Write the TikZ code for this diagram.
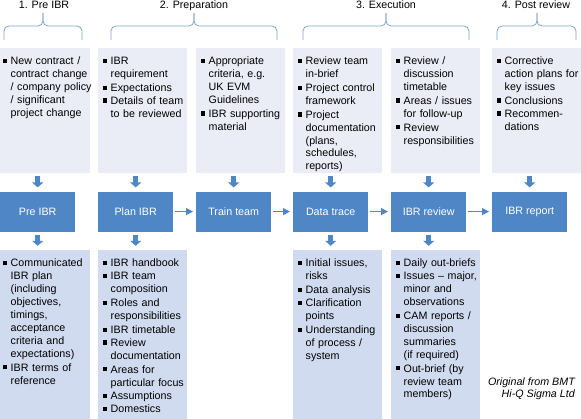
\documentclass[tikz,border=0pt]{standalone}
\usepackage{fontspec}
\setmainfont{Liberation Sans}
\usetikzlibrary{positioning,arrows.meta}

\definecolor{ibrblue}{HTML}{4F86C6}
\definecolor{ibrtop}{HTML}{EAECF6}
\definecolor{ibrbottom}{HTML}{D0DBEF}
\definecolor{ibrbrace}{HTML}{7BA3CF}

% one bullet point, lines split by hand
\newcommand{\itm}[1]{\noindent\makebox[8pt][l]{\rule[1.7pt]{4.2pt}{4.2pt}}%
  \begin{tabular}[t]{@{}l@{}}#1\end{tabular}\par}

\begin{document}
\begin{tikzpicture}[x=1pt, y=-1pt,
    every node/.style={font=\fontsize{10.7}{12.9}\selectfont},
    phase/.style={inner sep=0pt, anchor=base},
    bracket/.style={draw=ibrbrace, line width=0.8pt, rounded corners=5pt},
    topbox/.style={fill=ibrtop, text width=80pt, align=left, inner xsep=4.5pt,
      inner ysep=5pt, text height=11.5pt, text depth=103.5pt, anchor=north west},
    bottombox/.style={fill=ibrbottom, text width=80pt, align=left, inner xsep=4.5pt,
      inner ysep=5pt, text height=12pt, text depth=148pt},
    stepbox/.style={fill=ibrblue, text=white, minimum width=75pt,
      minimum height=40pt, inner sep=0pt},
    blockarrow/.style={draw=ibrblue, line width=5pt,
      -{Triangle[length=5pt, width=11pt]}, shorten <=3pt, shorten >=4pt},
    flow/.style={draw=ibrblue, line width=1.2pt,
      -{Triangle[length=7pt, width=7pt]}, shorten <=2pt, shorten >=3pt}]
  \useasboundingbox (0,0) rectangle (581,419);

  % Phases
  \node (prephase) [phase] at (44,9) {1. Pre IBR};
  \node (prepphase) [phase] at (194,9) {2. Preparation};
  \node (execphase) [phase] at (386,9) {3. Execution};
  \node (postphase) [phase] at (536,9) {4. Post review};
  \draw[bracket] (4,40) |- (43,26) -- (43,13);
  \draw[bracket] (82,40) |- (43,26) -- (43,13);
  \draw[bracket] (111,40) |- (194,26) -- (194,13);
  \draw[bracket] (277,40) |- (194,26) -- (194,13);
  \draw[bracket] (303,40) |- (386,26) -- (386,13);
  \draw[bracket] (469,40) |- (386,26) -- (386,13);
  \draw[bracket] (497,40) |- (537,26) -- (537,13);
  \draw[bracket] (576,40) |- (537,26) -- (537,13);

  % Inputs
  \node (pretop) [topbox, text width=83pt] at (-2,48)
    {\itm{New contract /\\contract change\\/ company policy\\/ significant\\project change}};
  \node (plantop) [topbox] at (98,48)
    {\itm{IBR\\requirement}\itm{Expectations}\itm{Details of team\\to be reviewed}};
  \node (traintop) [topbox] at (196,48)
    {\itm{Appropriate\\criteria, e.g.\\UK EVM\\Guidelines}\itm{IBR supporting\\material}};
  \node (tracetop) [topbox] at (293,48)
    {\itm{Review team\\in-brief}\itm{Project control\\framework}%
     \itm{Project\\documentation\\(plans,\\schedules,\\reports)}};
  \node (reviewtop) [topbox] at (391,48)
    {\itm{Review /\\discussion\\timetable}\itm{Areas / issues\\for follow-up}%
     \itm{Review\\responsibilities}};
  \node (reporttop) [topbox] at (492,48)
    {\itm{Corrective\\action plans for\\key issues}\itm{Conclusions}\itm{Recommen-\\dations}};

  % Steps
  \node (preibr) [stepbox, below right=18pt and 2pt of pretop.south west] {Pre IBR};
  \node (planibr) [stepbox, below right=18pt and 0pt of plantop.south west] {Plan IBR};
  \node (trainteam) [stepbox, below right=18pt and 0pt of traintop.south west] {Train team};
  \node (datatrace) [stepbox, below right=18pt and 0pt of tracetop.south west] {Data trace};
  \node (ibrreview) [stepbox, below right=18pt and 0pt of reviewtop.south west] {IBR review};
  \node (ibrreport) [stepbox, below right=18pt and 0pt of reporttop.south west] {IBR report};

  % Outputs
  \node (prebottom) [bottombox, text width=83pt, below right=18pt and -2pt of preibr.south west]
    {\itm{Communicated\\IBR plan\\(including\\objectives,\\timings,\\acceptance\\criteria and\\expectations)}%
     \itm{IBR terms of\\reference}};
  \node (planbottom) [bottombox, below right=18pt and 0pt of planibr.south west]
    {\itm{IBR handbook}\itm{IBR team\\composition}\itm{Roles and\\responsibilities}%
     \itm{IBR timetable}\itm{Review\\documentation}\itm{Areas for\\particular focus}%
     \itm{Assumptions}\itm{Domestics}};
  \node (tracebottom) [bottombox, below right=18pt and 0pt of datatrace.south west]
    {\itm{Initial issues,\\risks}\itm{Data analysis}\itm{Clarification\\points}%
     \itm{Understanding\\of process /\\system}};
  \node (reviewbottom) [bottombox, below right=18pt and 0pt of ibrreview.south west]
    {\itm{Daily out-briefs}\itm{Issues \textendash{} major,\\minor and\\observations}%
     \itm{CAM reports /\\discussion\\summaries\\(if required)}\itm{Out-brief (by\\review team\\members)}};

  \node (source) [font=\fontsize{10.7}{12.9}\selectfont\itshape, align=right,
    inner sep=0pt, anchor=base east] at (575,398) {Original from BMT\\Hi-Q Sigma Ltd};

  % Draw arrows
  \draw[blockarrow] (pretop.south -| preibr.north) -- (preibr.north);
  \draw[blockarrow] (plantop.south -| planibr.north) -- (planibr.north);
  \draw[blockarrow] (traintop.south -| trainteam.north) -- (trainteam.north);
  \draw[blockarrow] (tracetop.south -| datatrace.north) -- (datatrace.north);
  \draw[blockarrow] (reviewtop.south -| ibrreview.north) -- (ibrreview.north);
  \draw[blockarrow] (reporttop.south -| ibrreport.north) -- (ibrreport.north);
  \draw[blockarrow] (preibr.south) -- (prebottom.north -| preibr.south);
  \draw[blockarrow] (planibr.south) -- (planbottom.north -| planibr.south);
  \draw[blockarrow] (datatrace.south) -- (tracebottom.north -| datatrace.south);
  \draw[blockarrow] (ibrreview.south) -- (reviewbottom.north -| ibrreview.south);
  \draw[flow] (planibr) -- (trainteam);
  \draw[flow] (trainteam) -- (datatrace);
  \draw[flow] (datatrace) -- (ibrreview);
  \draw[flow] (ibrreview) -- (ibrreport);
\end{tikzpicture}
\end{document}
